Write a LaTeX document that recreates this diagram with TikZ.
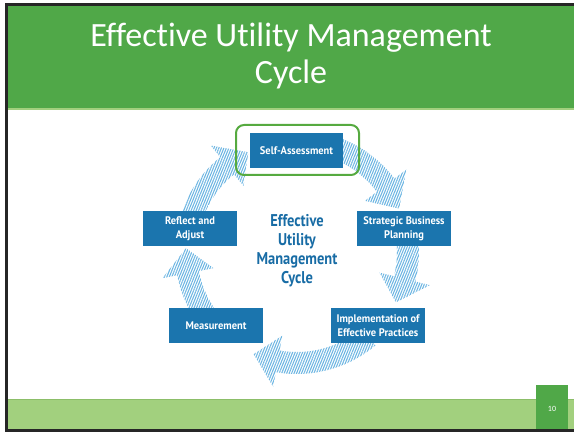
\documentclass[tikz,border=0pt]{standalone}
\usepackage{fontspec}
\setmainfont{Carlito}[Ligatures={NoCommon,NoContextual}]
\newfontfamily\estreita[FakeStretch=0.85]{PT Sans}
\newfontfamily\rotulo[FakeStretch=0.95]{PT Sans}
\usetikzlibrary{patterns.meta}

\definecolor{verdetitulo}{RGB}{80,168,72}
\definecolor{verdeclaro}{RGB}{162,208,126}
\definecolor{verdelinha}{RGB}{140,190,105}
\definecolor{verdecontorno}{RGB}{86,170,64}
\definecolor{azulcaixa}{RGB}{27,117,174}
\definecolor{azultexto}{RGB}{24,108,165}
\definecolor{azulseta}{RGB}{110,182,226}
\definecolor{moldura}{RGB}{38,38,38}

\begin{document}
\begin{tikzpicture}[x=1pt, y=1pt,
    caixa/.style={fill=azulcaixa, text=white, minimum width=94pt, minimum height=35pt,
      inner sep=0pt, align=center, font=\rotulo\bfseries\fontsize{11}{13.5}\selectfont},
    seta/.style={pattern={Lines[angle=68, distance=2.3pt, line width=1.1pt]}, pattern color=azulseta}]
    \useasboundingbox (0,0) rectangle (574,432);

    % Moldura e faixas do slide
    \fill[moldura] (5,0) rectangle (574,3);
    \fill[moldura] (5,426) rectangle (574,429);
    \fill[moldura] (5,0) rectangle (8,429);
    \fill[verdetitulo] (8,324) rectangle (574,426);
    \fill[verdeclaro] (8,322) rectangle (574,324);
    \fill[verdeclaro] (8,3) rectangle (574,33);
    \draw[verdelinha] (8,33) -- (574,33);
    \fill[verdetitulo] (536,3) rectangle (568,47);

    % Titulo e numero da pagina
    \node[text=white, align=center, font=\fontsize{34}{37}\selectfont] (titulo) at (291,376)
      {Effective Utility Management\\Cycle};
    \node[text=white, font=\fontsize{8}{9}\selectfont] (pagina) at (552,23) {10};

    % Setas hachuradas em volta do centro
    \coordinate (centro) at (297,180);
    \foreach \ini/\base/\ponta in {70/37/23, 8/-14/-27, -50/-100/-113, -145/-169/-182, 162/129/116}
      \fill[seta] ([shift={(centro)}]\ini:122pt) arc[start angle=\ini, end angle=\base, radius=122pt]
        -- ([shift={(centro)}]\base:137pt) -- ([shift={(centro)}]\ponta:111pt)
        -- ([shift={(centro)}]\base:85pt) -- ([shift={(centro)}]\base:100pt)
        arc[start angle=\base, end angle=\ini, radius=100pt] -- cycle;

    % Etapas do ciclo
    \node[caixa, minimum width=93pt] (auto) at (296.5,281.5) {Self-Assessment};
    \node[caixa] (plano) at (404,203.5) {Strategic Business\\Planning};
    \node[caixa] (pratica) at (378,106.5) {Implementation of\\Effective Practices};
    \node[caixa] (medida) at (216,106.5) {Measurement};
    \node[caixa] (ajuste) at (190,203.5) {Reflect and\\Adjust};
    \node[draw=verdecontorno, line width=2pt, rounded corners=8pt, minimum width=123pt,
      minimum height=50pt] (destaque) at (297.5,282) {};

    % Texto do meio
    \node[text=azultexto, align=center, font=\estreita\bfseries\fontsize{17}{19}\selectfont] (ciclo)
      at (297,181) {Effective\\Utility\\Management\\Cycle};
\end{tikzpicture}
\end{document}
